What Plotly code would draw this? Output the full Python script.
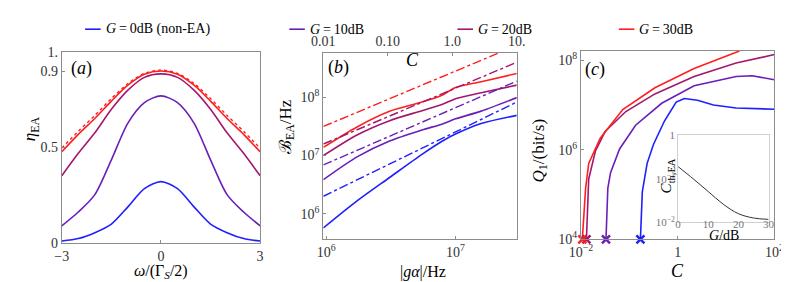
import plotly.graph_objects as go

W, H = 789, 282
FONT = "Liberation Serif, Times New Roman, serif"

# ---------------- data ----------------
omega = [-3, -2.5, -2, -1.5, -1, -0.5, 0, 0.5, 1, 1.5, 2, 2.5, 3]
eta_G0 = [0.011, 0.024, 0.055, 0.10, 0.19, 0.285, 0.322, 0.285, 0.19, 0.10, 0.055, 0.024, 0.011]
eta_G10 = [0.091, 0.163, 0.254, 0.436, 0.628, 0.735, 0.77, 0.735, 0.628, 0.436, 0.254, 0.163, 0.091]
eta_G20 = [0.353, 0.47, 0.577, 0.70, 0.80, 0.867, 0.885, 0.867, 0.80, 0.70, 0.577, 0.47, 0.353]
eta_G30 = [0.478, 0.569, 0.652, 0.743, 0.826, 0.883, 0.90, 0.883, 0.826, 0.743, 0.652, 0.569, 0.478]
eta_G30_approx = [0.497, 0.585, 0.668, 0.756, 0.835, 0.888, 0.905, 0.888, 0.835, 0.756, 0.668, 0.585, 0.497]

galpha = [9.5e5, 1.73e6, 3.09e6, 5.5e6, 7.94e6, 1.0e7, 1.58e7, 2.98e7]
B_G0 = [5.7e5, 1.66e6, 4.2e6, 1.05e7, 1.78e7, 2.34e7, 3.55e7, 4.9e7]
B_G10 = [3.85e6, 9.5e6, 1.78e7, 2.75e7, 3.5e7, 4.27e7, 5.8e7, 9.9e7]
B_G20 = [1.0e7, 2.26e7, 3.98e7, 5.9e7, 7.6e7, 9.5e7, 1.2e8, 1.62e8]
B_G30 = [1.38e7, 3.1e7, 5.75e7, 8.3e7, 1.1e8, 1.48e8, 1.85e8, 2.57e8]
galpha_asym = [9.5e5, 2.98e7]
Basym_G0 = [2.0e6, 8.3e7]
Basym_G10 = [6.9e6, 1.9e8]
Basym_G20 = [1.58e7, 4.0e8]
Basym_G30 = [3.16e7, 7.8e8]
C_top_ticks = [0.01, 0.1, 1.0, 10.0]
C_top_text = ["0.01", "0.10", "1.0", "10."]

C_G0 = [0.17, 0.186, 0.234, 0.316, 0.537, 0.933, 1.38, 2.57, 5.5, 16.2, 100]
Q_G0 = [1e4, 1.15e5, 5.0e5, 1.32e6, 4.47e6, 1.17e7, 1.41e7, 1.29e7, 1.01e7, 8.6e6, 8.1e6]
C_G10 = [0.033, 0.036, 0.041, 0.063, 0.135, 0.468, 2.19, 16.2, 34.7, 100]
Q_G10 = [1e4, 1.38e5, 3.09e5, 1.05e6, 3.55e6, 1.1e7, 2.7e7, 4.37e7, 4.52e7, 3.7e7]
C_G20 = [0.013, 0.0145, 0.02, 0.0316, 0.085, 0.339, 2.19, 16.2, 100]
Q_G20 = [1e4, 2.24e5, 9.5e5, 2.57e6, 7.2e6, 1.78e7, 4.37e7, 8.7e7, 1.35e8]
C_G30 = [0.0107, 0.0125, 0.0145, 0.0251, 0.0733, 0.339, 2.19, 19.0]
Q_G30 = [1e4, 1.38e5, 5.0e5, 1.82e6, 7.94e6, 2.45e7, 6.6e7, 1.62e8]
C_thr = [0.17, 0.033, 0.013, 0.0107]
Q_thr = [1e4, 1e4, 1e4, 1e4]

G_dB = [0, 5, 10, 15, 20, 25, 30]
C_th_EA = [0.19, 0.10, 0.051, 0.026, 0.0158, 0.0126, 0.0117]

legend_labels = ["<i>G</i>\u2009=\u20090dB (non-EA)", "<i>G</i>\u2009=\u200910dB",
                 "<i>G</i>\u2009=\u200920dB", "<i>G</i>\u2009=\u200930dB"]
colors = ["#1f1fff", "#6a1fb8", "#a3186e", "#ff1f1f"]

# ---------------- figure ----------------
fig = go.Figure()
lw = 1.6

# panel a
for ys, c in zip([eta_G0, eta_G10, eta_G20, eta_G30], colors):
    fig.add_trace(go.Scatter(x=omega, y=ys, mode="lines", line=dict(color=c, width=lw, shape="spline", smoothing=0.8),
                             xaxis="x", yaxis="y", showlegend=False))
fig.add_trace(go.Scatter(x=omega, y=eta_G30_approx, mode="lines",
                         line=dict(color=colors[3], width=1.4, dash="dot", shape="spline", smoothing=0.8),
                         xaxis="x", yaxis="y", showlegend=False))

# panel b
for ys, c in zip([B_G0, B_G10, B_G20, B_G30], colors):
    fig.add_trace(go.Scatter(x=galpha, y=ys, mode="lines", line=dict(color=c, width=lw, shape="spline", smoothing=0.8),
                             xaxis="x2", yaxis="y2", showlegend=False))
for ys, c in zip([Basym_G0, Basym_G10, Basym_G20, Basym_G30], colors):
    fig.add_trace(go.Scatter(x=galpha_asym, y=ys, mode="lines", line=dict(color=c, width=1.4, dash="dashdot"),
                             xaxis="x2", yaxis="y2", showlegend=False))
fig.add_trace(go.Scatter(x=C_top_ticks, y=[1e7] * 4, mode="markers", marker=dict(opacity=0),
                         xaxis="x4", yaxis="y2", showlegend=False, hoverinfo="skip"))

# panel c
for xs, ys, c in zip([C_G0, C_G10, C_G20, C_G30], [Q_G0, Q_G10, Q_G20, Q_G30], colors):
    fig.add_trace(go.Scatter(x=xs, y=ys, mode="lines", line=dict(color=c, width=lw),
                             xaxis="x3", yaxis="y3", showlegend=False))
fig.add_trace(go.Scatter(x=C_thr, y=Q_thr, mode="markers",
                         marker=dict(symbol="x-thin", size=8, color=colors, line=dict(width=2.5, color=colors)),
                         xaxis="x3", yaxis="y3", showlegend=False, cliponaxis=False))

# inset
fig.add_trace(go.Scatter(x=G_dB, y=C_th_EA, mode="lines", line=dict(color="#333333", width=1, shape="spline"),
                         xaxis="x5", yaxis="y5", showlegend=False))

def px(x):
    return x / W

def py(y):
    return 1 - y / H

frame = dict(showline=True, linecolor="#8c8c8c", linewidth=1, mirror=True, showgrid=False, zeroline=False,
             ticks="inside", ticklen=3, tickcolor="#8c8c8c",
             tickfont=dict(family=FONT, size=14, color="#333333"))

sup = lambda e: "10<sup>%s</sup>" % e

layout = dict(
    width=W, height=H, margin=dict(l=0, r=0, t=0, b=0),
    plot_bgcolor="white", paper_bgcolor="white",
    font=dict(family=FONT, color="black"),
    xaxis=dict(domain=[px(43), px(247)], range=[-3, 3], tickvals=[-3, 0, 3], ticktext=["\u22123", "0", "3"],
               anchor="y", **frame),
    yaxis=dict(domain=[py(241), py(39)], range=[0, 1], tickvals=[0, 0.5, 0.9, 1.0],
               ticktext=["0", "0.5", "0.9", "1."], anchor="x", **frame),
    xaxis2=dict(domain=[px(312), px(511)], type="log", range=[5.977, 7.474], tickvals=[1e6, 1e7],
                ticktext=[sup(6), sup(7)], anchor="y2", **frame),
    yaxis2=dict(domain=[py(237), py(40)], type="log", range=[5.56, 8.764], tickvals=[1e6, 1e7, 1e8],
                ticktext=[sup(6), sup(7), sup(8)], anchor="x2", **frame),
    xaxis4=dict(type="log", range=[-2, 1], overlaying="x2", side="top", anchor="y2",
                tickvals=C_top_ticks, ticktext=C_top_text, **frame),
    xaxis3=dict(domain=[px(577), px(776)], type="log", range=[-2, 2], tickvals=[0.01, 1, 100],
                ticktext=[sup("\u22122"), "1", sup(2)], anchor="y3", **frame),
    yaxis3=dict(domain=[py(237), py(38)], type="log", range=[4, 8.21], tickvals=[1e4, 1e6, 1e8],
                ticktext=[sup(4), sup(6), sup(8)], anchor="x3", **frame),
    xaxis5=dict(domain=[px(677), px(770)], range=[0, 30], tickvals=[0, 10, 20, 30], anchor="y5",
                showline=True, linecolor="#d0d0d0", mirror=True, showgrid=False, zeroline=False, ticks="",
                ticklabelstandoff=-9,
                tickfont=dict(family=FONT, size=11, color="#777777")),
    yaxis5=dict(domain=[py(219), py(127)], type="log", range=[-2, 0], tickvals=[0.01, 0.1, 1],
                ticktext=[sup("\u22122"), sup("\u22121"), "1"], anchor="x5",
                showline=True, linecolor="#d0d0d0", mirror=True, showgrid=False, zeroline=False, ticks="",
                tickfont=dict(family=FONT, size=11, color="#777777")),
)
fig.update_layout(**layout)

ann = []
def A(x, y, text, size=16, angle=0, **kw):
    ann.append(dict(x=px(x), y=py(y), xref="paper", yref="paper", text=text, showarrow=False,
                    textangle=angle, font=dict(family=FONT, size=size, color=kw.pop("color", "black")),
                    xanchor="center", yanchor="middle", **kw))

# axis titles
A(11, 120, "<i>\u03b7</i><sub>EA</sub>", 17, -90)
A(145, 271, "<i>\u03c9</i>/(\u0393<sub><i>S</i></sub>/2)", 16)
A(274, 118, "\u212C<sub>EA</sub>/Hz", 17, -90)
A(415, 271, "|<i>g\u03b1</i>|/Hz", 16)
A(404, 48, "<i>C</i>", 18)
A(535, 143, "<i>Q</i><sub>1</sub>/(bit/s)", 17, -90)
A(676, 270, "<i>C</i>", 18)
A(666, 170, "<i>C</i><sub>th,EA</sub>", 15, -90)
A(724, 233, "<i>G</i>/dB", 14)
# panel labels
A(63, 56, "(<i>a</i>)", 18)
A(328, 55, "(<i>b</i>)", 18)
A(592, 58, "(<i>c</i>)", 18)

# legend
shapes = []
leg_x = [67, 277, 450, 616]
for lx, lab, c in zip(leg_x, legend_labels, colors):
    shapes.append(dict(type="line", xref="paper", yref="paper", x0=px(lx), x1=px(lx + 16), y0=py(15), y1=py(15),
                       line=dict(color=c, width=1.6)))
    ann.append(dict(x=px(lx + 19), y=py(15), xref="paper", yref="paper", text=lab, showarrow=False,
                    font=dict(family=FONT, size=14, color="black"), xanchor="left", yanchor="middle"))

fig.update_layout(annotations=ann, shapes=shapes)
fig.write_html("out.html")
